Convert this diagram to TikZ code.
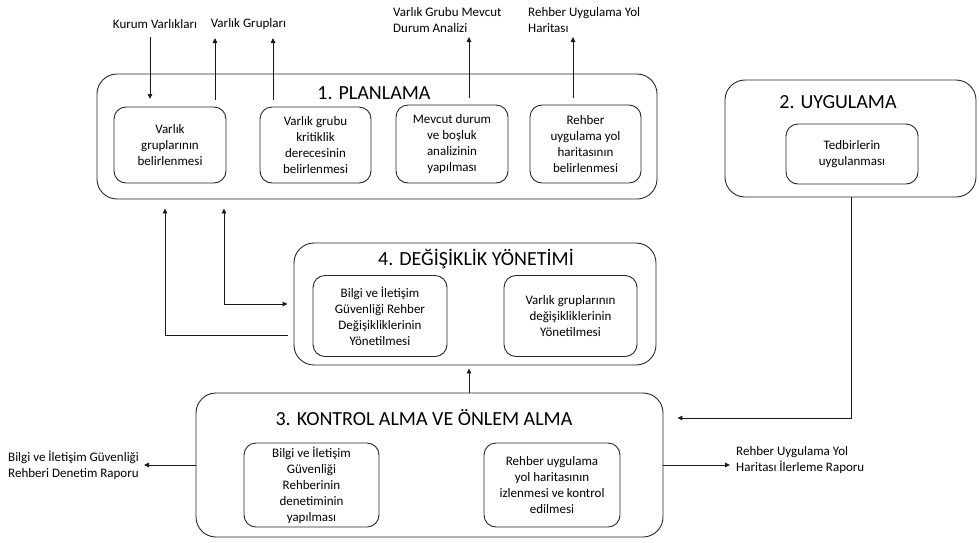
\documentclass[tikz,border=0pt]{standalone}
\usepackage{fontspec}
\setmainfont{Carlito}
\usetikzlibrary{arrows.meta,calc}
\begin{document}
\begin{tikzpicture}[x=1pt,y=-1pt,
  bigbox/.style={draw=black!85,line width=0.9pt,rounded corners=20pt,inner sep=0pt},
  smallbox/.style={draw=black!85,line width=0.9pt,rounded corners=12pt,inner sep=0pt,align=center,
    font=\fontsize{13}{16}\selectfont},
  titletext/.style={inner sep=0pt,font=\fontsize{20}{24}\selectfont},
  lbl/.style={inner sep=0pt,align=left,font=\fontsize{13}{16}\selectfont},
  conn/.style={line width=0.9pt,draw=black!90},
  arr/.style={conn,-{Triangle[length=5pt,width=4.5pt]}},
  barr/.style={conn,{Triangle[length=5pt,width=4.5pt]}-{Triangle[length=5pt,width=4.5pt]}}
]
\useasboundingbox (0,0) rectangle (979,542);

% big boxes
\node[bigbox,minimum width=560pt,minimum height=125pt] (plan) at (377,136.5) {};
\node[bigbox,minimum width=251pt,minimum height=117pt] (uyg) at (850.5,138.5) {};
\node[bigbox,minimum width=362pt,minimum height=122pt] (deg) at (475,304) {};
\node[bigbox,minimum width=467pt,minimum height=144pt] (kon) at (429.5,465) {};

% titles
\node[titletext] (plant) at (374,93) {1. PLANLAMA};
\node[titletext] (uygt) at (838,102) {2. UYGULAMA};
\node[titletext] (degt) at (476,259) {4. DEĞİŞİKLİK YÖNETİMİ};
\node[titletext] (kont) at (424,418) {3. KONTROL ALMA VE ÖNLEM ALMA};

% inner boxes
\node[smallbox,minimum width=112pt,minimum height=76pt] (p1) at (170,145) {Varlık\\gruplarının\\belirlenmesi};
\node[smallbox,minimum width=111pt,minimum height=76pt] (p2) at (315.5,145) {Varlık grubu\\kritiklik\\derecesinin\\belirlenmesi};
\node[smallbox,minimum width=112pt,minimum height=78pt] (p3) at (452,144) {Mevcut durum\\ve boşluk\\analizinin\\yapılması};
\node[smallbox,minimum width=111pt,minimum height=78pt] (p4) at (585.5,144) {Rehber\\uygulama yol\\haritasının\\belirlenmesi};
\node[smallbox,minimum width=132pt,minimum height=60pt] (u1) at (852,154) {Tedbirlerin\\uygulanması};
\node[smallbox,minimum width=134pt,minimum height=81pt] (d1) at (380,316) {Bilgi ve İletişim\\Güvenliği Rehber\\Değişikliklerinin\\Yönetilmesi};
\node[smallbox,minimum width=133pt,minimum height=81pt] (d2) at (570.5,316) {Varlık gruplarının\\değişikliklerinin\\Yönetilmesi};
\node[smallbox,minimum width=135pt,minimum height=84pt] (k1) at (311.5,485) {Bilgi ve İletişim\\Güvenliği\\Rehberinin\\denetiminin\\yapılması};
\node[smallbox,minimum width=136pt,minimum height=84pt] (k2) at (552,485) {Rehber uygulama\\yol haritasının\\izlenmesi ve kontrol\\edilmesi};

% external labels
\node[lbl] (kurum) at (155,24) {Kurum Varlıkları};
\node[lbl] (vg) at (248.5,24) {Varlık Grupları};
\node[lbl,anchor=west] (vgm) at (393,20.5) {Varlık Grubu Mevcut\\Durum Analizi};
\node[lbl,anchor=west] (ruy) at (528,20.5) {Rehber Uygulama Yol\\Haritası};
\node[lbl,anchor=west] (bdr) at (8,465) {Bilgi ve İletişim Güvenliği\\Rehberi Denetim Raporu};
\node[lbl,anchor=west] (rir) at (736,460) {Rehber Uygulama Yol\\Haritası İlerleme Raporu};

% coordinates for free ends
\coordinate (a1s) at (150,37);  \coordinate (a1e) at (150,99);
\coordinate (a2s) at (215,100); \coordinate (a2e) at (215,38);
\coordinate (a3s) at (273,100); \coordinate (a3e) at (273,38);
\coordinate (a4s) at (469,98);  \coordinate (a4e) at (469,37);
\coordinate (a5s) at (573,98);  \coordinate (a5e) at (573,37);

\draw[arr] (a1s) -- (a1e);
\draw[arr] (a2s) -- (a2e);
\draw[arr] (a3s) -- (a3e);
\draw[arr] (a4s) -- (a4e);
\draw[arr] (a5s) -- (a5e);

% change management to planning
\coordinate (c1) at ($(deg.west|-0,335)+(-6,0)$);
\draw[arr] (c1) -- (165,335) -- ($(plan.south-|165,0)+(0,9)$);
\coordinate (c2) at ($(deg.west|-0,304)+(-6,0)$);
\draw[barr] ($(plan.south-|224,0)+(0,9)$) -- (224,304) -- (c2);

% control to change management
\draw[arr] (kon.north-|469,0) -- ($(deg.south-|469,0)+(0,3)$);

% implementation to control
\draw[arr] (uyg.south-|851,0) -- (851,418) -- ($(kon.east|-0,418)+(14,0)$);

% outputs
\draw[arr] (kon.west|-0,465) -- (144,465);
\draw[arr] (kon.east|-0,465) -- (730,465);
\end{tikzpicture}
\end{document}
